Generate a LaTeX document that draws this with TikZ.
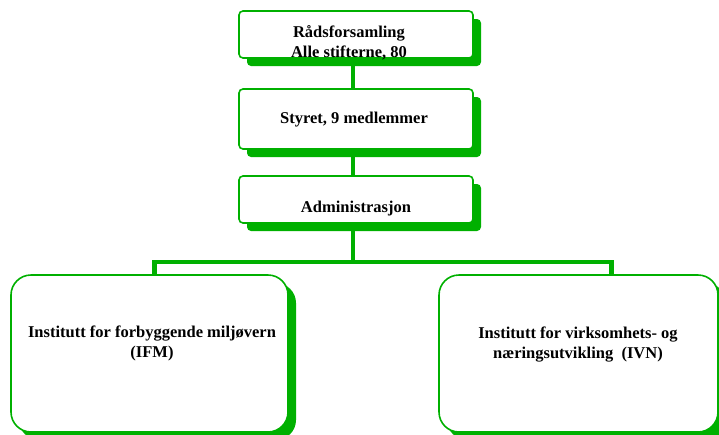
\documentclass[tikz,border=0pt]{standalone}
\usepackage{fontspec}
\setmainfont{Liberation Serif}
\usetikzlibrary{shadows}
\definecolor{orggreen}{RGB}{0,176,0}
\tikzstyle{unit}=[draw=orggreen,line width=1.6pt,fill=white,rounded corners=4pt,
  drop shadow={shadow xshift=8pt,shadow yshift=-8pt,fill=orggreen,opacity=1}]
\tikzstyle{institute}=[unit,rounded corners=20pt]
\tikzstyle{caption}=[font=\bfseries\fontsize{16.5}{20}\selectfont,align=center,inner sep=0pt]
\tikzstyle{link}=[orggreen,line width=4.5pt]

\begin{document}
\begin{tikzpicture}[x=1pt,y=-1pt]
		\useasboundingbox (0,0) rectangle (719,434);

		\node[unit,minimum width=234pt,minimum height=47pt] (raad) at (356,34.5) {};
		\node[unit,minimum width=234pt,minimum height=60pt] (styre) at (356,119) {};
		\node[unit,minimum width=234pt,minimum height=47pt] (adm) at (356,199.5) {};
		\node[institute,minimum width=277pt,minimum height=157pt] (ifm) at (149.5,353.5) {};
		\node[institute,minimum width=279pt,minimum height=157pt] (ivn) at (578.5,353.5) {};

		\node[caption] (raadtxt) at (349,42.5) {Rådsforsamling\\Alle stifterne, 80};
		\node[caption] (styretxt) at (354,120) {Styret, 9 medlemmer};
		\node[caption] (admtxt) at (356,209) {Administrasjon};
		\node[caption] (ifmtxt) at (152,343) {Institutt for forbyggende miljøvern\\(IFM)};
		\node[caption] (ivntxt) at (578,345) {Institutt for virksomhets- og\\næringsutvikling~~(IVN)};

		% connectors
		\coordinate (fork) at (353,262);
		\draw[link] ([xshift=-3pt]raad.south) -- ([xshift=-3pt]styre.north);
		\draw[link] ([xshift=-3pt]styre.south) -- ([xshift=-3pt]adm.north);
		\draw[link] ([xshift=-3pt]adm.south) -- (fork);
		\draw[link] (fork) -| ([xshift=5pt]ifm.north);
		\draw[link] (fork) -| ([xshift=33pt]ivn.north);
	\end{tikzpicture}
\end{document}
